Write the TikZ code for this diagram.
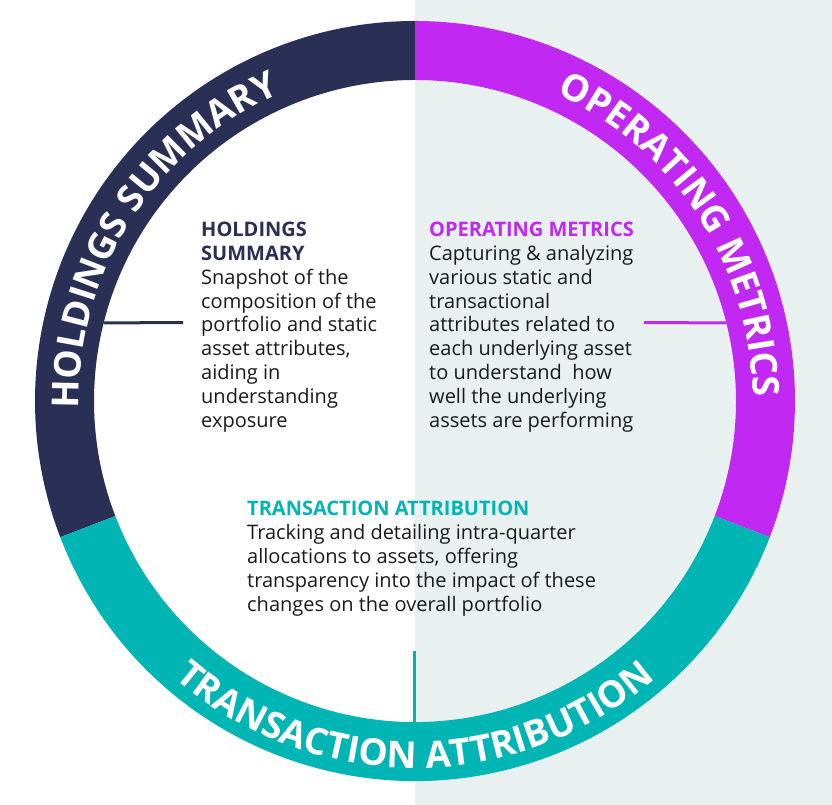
\documentclass[tikz,border=0pt]{standalone}
\usepackage{fontspec}
\setmainfont{Open Sans}
\usetikzlibrary{decorations.text}

\definecolor{hsnavy}{HTML}{2A2F55}
\definecolor{ompurple}{HTML}{C128F2}
\definecolor{tateal}{HTML}{00B5B3}
\definecolor{bggrey}{HTML}{E8F1F0}
\definecolor{bodyink}{HTML}{1A1A1A}

\begin{document}
\begin{tikzpicture}[
  x=1pt, y=1pt,
  body/.style={anchor=base west, align=left, inner sep=0pt, text=bodyink, font=\fontsize{20}{23.8}\selectfont},
  ringtext/.style={decorate, decoration={text along path, text align=center, text color=white, text={|\fontsize{37}{37}\selectfont\bfseries|#1}}},
  tick/.style={line width=3pt}
]
\useasboundingbox (0,0) rectangle (832,805);
\fill[white] (0,0) rectangle (832,805);
\fill[bggrey] (415,0) rectangle (832,805);

\begin{scope}[shift={(415,404)}]
% ring
\fill[hsnavy] (90:380) arc[start angle=90, end angle=201, radius=380] -- (201:321) arc[start angle=201, end angle=90, radius=321] -- cycle;
\fill[ompurple] (90:380) arc[start angle=90, end angle=-21, radius=380] -- (-21:321) arc[start angle=-21, end angle=90, radius=321] -- cycle;
\fill[tateal] (201:380) arc[start angle=201, end angle=339, radius=380] -- (339:321) arc[start angle=339, end angle=201, radius=321] -- cycle;

\path[ringtext=HOLDINGS SUMMARY] (203:336) arc[start angle=203, end angle=92, radius=336];
\path[ringtext=OPERATING METRICS] (89:338) arc[start angle=89, end angle=-23, radius=338];
\path[ringtext=TRANSACTION ATTRIBUTION] (205:367) arc[start angle=205, end angle=335, radius=367];

\coordinate (hsring) at (165.9:321);
\coordinate (hsend) at (-232,78.3);
\coordinate (omring) at (14.1:321);
\coordinate (omend) at (229,78.3);
\coordinate (taring) at (-1,-321);
\coordinate (taend) at (-1,-250);
\end{scope}

% base anchor sits on the last line
\node[body] (holdtext) at (201,377.9) {\textcolor{hsnavy}{\bfseries HOLDINGS}\\\textcolor{hsnavy}{\bfseries SUMMARY}\\Snapshot of the\\composition of the\\portfolio and static\\asset attributes,\\aiding in\\understanding\\exposure};
\node[body] (opertext) at (429,377.9) {\textcolor{ompurple}{\bfseries OPERATING METRICS}\\Capturing \& analyzing\\various static and\\transactional\\attributes related to\\each underlying asset\\to understand\ \ how\\well the underlying\\assets are performing};
\node[body] (transtext) at (247,193.8) {\textcolor{tateal}{\bfseries TRANSACTION ATTRIBUTION}\\Tracking and detailing intra-quarter\\allocations to assets, offering\\transparency into the impact of these\\changes on the overall portfolio};

\draw[tick, hsnavy] (hsring) -- (hsend);
\draw[tick, ompurple] (omring) -- (omend);
\draw[tick, tateal] (taring) -- (taend);
\end{tikzpicture}
\end{document}
